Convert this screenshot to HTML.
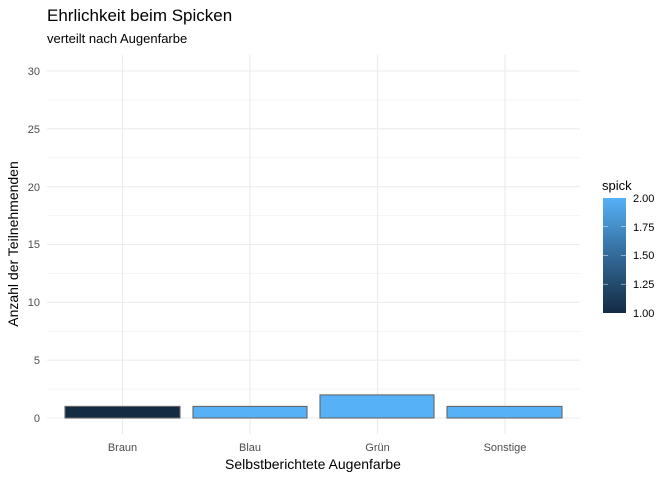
<!DOCTYPE html>
<html><head><meta charset="utf-8"><style>body{margin:0;background:#fff}svg{display:block}</style></head><body>
<svg width="672" height="480" xmlns="http://www.w3.org/2000/svg" font-family="Liberation Sans, sans-serif">
<rect width="672" height="480" fill="#fff"/>
<g stroke="#ebebeb" stroke-width="0.5">
<line x1="47" x2="580" y1="389.1" y2="389.1"/><line x1="47" x2="580" y1="331.3" y2="331.3"/><line x1="47" x2="580" y1="273.5" y2="273.5"/><line x1="47" x2="580" y1="215.6" y2="215.6"/><line x1="47" x2="580" y1="157.8" y2="157.8"/><line x1="47" x2="580" y1="99.9" y2="99.9"/>
</g>
<g stroke="#ebebeb" stroke-width="1.1">
<line x1="47" x2="580" y1="418" y2="418"/><line x1="47" x2="580" y1="360.2" y2="360.2"/><line x1="47" x2="580" y1="302.3" y2="302.3"/><line x1="47" x2="580" y1="244.5" y2="244.5"/><line x1="47" x2="580" y1="186.7" y2="186.7"/><line x1="47" x2="580" y1="128.8" y2="128.8"/><line x1="47" x2="580" y1="71" y2="71"/>
<line x1="122.5" x2="122.5" y1="55" y2="434"/><line x1="250" x2="250" y1="55" y2="434"/><line x1="377.5" x2="377.5" y1="55" y2="434"/><line x1="505" x2="505" y1="55" y2="434"/>
</g>
<g stroke="#666" stroke-width="1.1">
<rect x="65" y="406.4" width="115" height="11.6" fill="#132b43"/>
<rect x="193" y="406.4" width="114" height="11.6" fill="#56b1f7"/>
<rect x="320" y="394.9" width="114" height="23.1" fill="#56b1f7"/>
<rect x="447" y="406.4" width="115" height="11.6" fill="#56b1f7"/>
</g>
<g font-size="11" fill="#4d4d4d" text-anchor="end">
<text x="40" y="422">0</text><text x="40" y="364">5</text><text x="40" y="306">10</text><text x="40" y="248">15</text><text x="40" y="191">20</text><text x="40" y="133">25</text><text x="40" y="75">30</text>
</g>
<g font-size="11" fill="#4d4d4d" text-anchor="middle">
<text x="122.5" y="451">Braun</text><text x="250" y="451">Blau</text><text x="377.5" y="451">Grün</text><text x="505" y="451">Sonstige</text>
</g>
<text x="313" y="469" font-size="14" text-anchor="middle">Selbstberichtete Augenfarbe</text>
<text transform="translate(18,244) rotate(-90)" font-size="14" text-anchor="middle">Anzahl der Teilnehmenden</text>
<text x="47" y="21" font-size="17">Ehrlichkeit beim Spicken</text>
<text x="47" y="43" font-size="13">verteilt nach Augenfarbe</text>
<defs><linearGradient id="g" x1="0" y1="1" x2="0" y2="0"><stop offset="0" stop-color="#132b43"/><stop offset="0.5" stop-color="#336a98"/><stop offset="1" stop-color="#56b1f7"/></linearGradient></defs>
<text x="602" y="190" font-size="13">spick</text>
<rect x="603" y="198" width="23" height="115" fill="url(#g)"/>
<g stroke="#fff" stroke-width="0.6" opacity="0.8">
<line x1="603" x2="608" y1="226.7" y2="226.7"/><line x1="621" x2="626" y1="226.7" y2="226.7"/>
<line x1="603" x2="608" y1="255.5" y2="255.5"/><line x1="621" x2="626" y1="255.5" y2="255.5"/>
<line x1="603" x2="608" y1="284.2" y2="284.2"/><line x1="621" x2="626" y1="284.2" y2="284.2"/>
</g>
<g font-size="11" fill="#000">
<text x="633" y="202">2.00</text><text x="633" y="231">1.75</text><text x="633" y="259">1.50</text><text x="633" y="288">1.25</text><text x="633" y="317">1.00</text>
</g>
</svg>
</body></html>
